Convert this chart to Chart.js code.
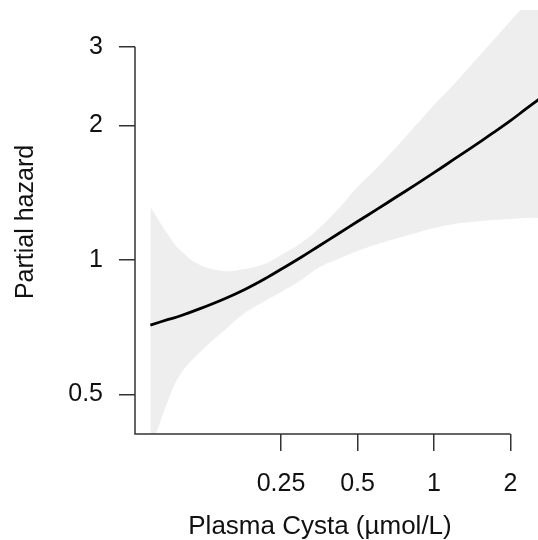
<!DOCTYPE html>
<html>
<head>
<meta charset="utf-8">
<script src="https://cdn.jsdelivr.net/npm/chart.js@4"></script>
<style>
  body { margin: 0; background: #fff; }
</style>
</head>
<body>
<canvas id="hazardChart" width="538" height="540"></canvas>
<script>
// Plasma cystatin (umol/L) and the fitted partial hazard with its band
const cystaX = [0.0765, 0.09, 0.1, 0.12, 0.15, 0.18, 0.22, 0.25, 0.3, 0.35, 0.42, 0.5,
                0.6, 0.7, 0.85, 1, 1.2, 1.4, 1.7, 2, 2.3, 2.6];
const fitY   = [0.715, 0.736, 0.749, 0.778, 0.819, 0.859, 0.913, 0.953, 1.014, 1.072, 1.145, 1.219,
                1.301, 1.376, 1.476, 1.568, 1.681, 1.782, 1.922, 2.051, 2.178, 2.294];
const upperY = [1.314, 1.138, 1.053, 0.975, 0.945, 0.955, 0.985, 1.026, 1.092, 1.173, 1.301, 1.457,
                1.615, 1.772, 2.005, 2.223, 2.477, 2.732, 3.091, 3.427, 3.741, 4.041];
const lowerY = [0.376, 0.486, 0.553, 0.622, 0.697, 0.761, 0.814, 0.848, 0.902, 0.960, 1.005, 1.047,
                1.086, 1.114, 1.149, 1.179, 1.204, 1.216, 1.229, 1.235, 1.242, 1.242];

const xTicks = [0.25, 0.5, 1, 2];
const yTicks = [0.5, 1, 2, 3];

const FONT = '"Liberation Sans", Arial, Helvetica, sans-serif';
Chart.defaults.font.family = FONT;
Chart.defaults.font.size = 25;
Chart.defaults.color = '#111';

function pts(ys) {
  return cystaX.map((x, i) => ({ x: x, y: ys[i] }));
}

function noPad(s) {
  s.paddingTop = 0;
  s.paddingBottom = 0;
  s.paddingLeft = 0;
  s.paddingRight = 0;
}

// axis lines only span the labelled range, plus the axis titles
const axisPlugin = {
  id: 'axisPlugin',
  afterDraw(chart) {
    const ctx = chart.ctx;
    const xs = chart.scales.x, ys = chart.scales.y;
    const area = chart.chartArea;
    ctx.save();
    ctx.strokeStyle = '#333';
    ctx.lineWidth = 1.5;
    ctx.beginPath();
    ctx.moveTo(area.left, ys.getPixelForValue(yTicks[yTicks.length - 1]));
    ctx.lineTo(area.left, area.bottom);
    ctx.lineTo(xs.getPixelForValue(xTicks[xTicks.length - 1]), area.bottom);
    ctx.stroke();

    ctx.fillStyle = '#111';
    ctx.font = '26px ' + FONT;
    ctx.textAlign = 'center';
    ctx.textBaseline = 'alphabetic';
    ctx.fillText('Plasma Cysta (\u00b5mol/L)', 320, 534);

    ctx.font = '25px ' + FONT;
    ctx.translate(33, (area.top + area.bottom) / 2);
    ctx.rotate(-Math.PI / 2);
    ctx.fillText('Partial hazard', 0, 0);
    ctx.restore();
  }
};

new Chart(document.getElementById('hazardChart'), {
  type: 'line',
  data: {
    datasets: [
      {
        label: 'fit',
        data: pts(fitY),
        borderColor: '#000',
        borderWidth: 2.8,
        pointRadius: 0,
        fill: false,
        tension: 0.4
      },
      {
        label: 'upper',
        data: pts(upperY),
        borderColor: 'rgba(0,0,0,0)',
        borderWidth: 0,
        backgroundColor: '#eeeeee',
        pointRadius: 0,
        fill: '+1',
        tension: 0.4
      },
      {
        label: 'lower',
        data: pts(lowerY),
        borderColor: 'rgba(0,0,0,0)',
        borderWidth: 0,
        pointRadius: 0,
        fill: false,
        tension: 0.4
      }
    ]
  },
  options: {
    responsive: false,
    animation: false,
    layout: { padding: { top: 10, right: 0, left: 0, bottom: 0 } },
    plugins: { legend: { display: false }, tooltip: { enabled: false } },
    scales: {
      x: {
        type: 'logarithmic',
        min: 0.06655,
        max: 2.566,
        bounds: 'data',
        afterFit(s) { s.height = 106; noPad(s); },
        afterBuildTicks(s) { s.ticks = xTicks.map(v => ({ value: v })); },
        border: { display: false },
        grid: { drawOnChartArea: false, drawTicks: true, tickLength: 17, tickColor: '#333', lineWidth: 1.5 },
        ticks: { padding: 18, maxRotation: 0, autoSkip: false, callback: v => String(v) }
      },
      y: {
        type: 'logarithmic',
        min: 0.4078,
        max: 3.627,
        bounds: 'data',
        afterFit(s) { s.width = 135; noPad(s); },
        afterBuildTicks(s) { s.ticks = yTicks.map(v => ({ value: v })); },
        border: { display: false },
        grid: { drawOnChartArea: false, drawTicks: true, tickLength: 16, tickColor: '#333', lineWidth: 1.5 },
        ticks: { padding: 16, autoSkip: false, callback: v => String(v) }
      }
    }
  },
  plugins: [axisPlugin]
});
</script>
</body>
</html>
